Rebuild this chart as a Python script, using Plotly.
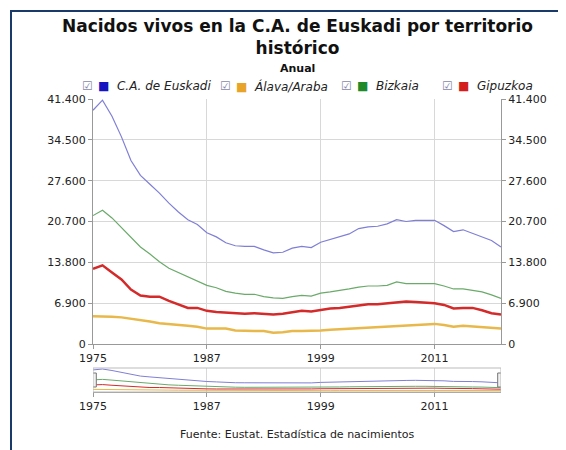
import plotly.graph_objects as go

years = list(range(1975, 2019))
euskadi = [39500, 41200, 38500, 35000, 31000, 28500, 27000, 25500, 23800, 22300, 21000, 20200, 18800, 18100, 17100, 16600, 16500, 16500, 15900, 15400, 15500, 16200, 16500, 16300, 17200, 17700, 18200, 18600, 19500, 19800, 19900, 20300, 21000, 20700, 20900, 20900, 20900, 20000, 19000, 19300, 18700, 18200, 17500, 16400]
alava = [4700, 4700, 4600, 4500, 4300, 4000, 3800, 3500, 3400, 3200, 3100, 2900, 2600, 2600, 2600, 2300, 2200, 2200, 2200, 1900, 2000, 2200, 2200, 2200, 2300, 2400, 2500, 2500, 2700, 2800, 2900, 3000, 3100, 3200, 3300, 3400, 3400, 3200, 2900, 3100, 3000, 2900, 2800, 2600]
bizkaia = [21700, 22600, 21300, 19700, 18000, 16400, 15200, 13900, 12800, 12100, 11300, 10600, 9900, 9500, 8900, 8600, 8400, 8400, 8000, 7800, 7700, 8000, 8200, 8100, 8600, 8800, 9000, 9300, 9600, 9800, 9800, 9900, 10500, 10200, 10200, 10200, 10200, 9800, 9300, 9300, 9000, 8800, 8300, 7700]
gipuzkoa = [12700, 13300, 12100, 10900, 9200, 8200, 8000, 8000, 7300, 6700, 6100, 6100, 5600, 5400, 5300, 5100, 5100, 5200, 5100, 5000, 5100, 5300, 5600, 5500, 5800, 6000, 6100, 6300, 6600, 6700, 6700, 6900, 7100, 7200, 7100, 7000, 6900, 6600, 6000, 6100, 6100, 5700, 5200, 5000]
names = ["C.A. de Euskadi", "Álava/Araba", "Bizkaia", "Gipuzkoa"]
yticks = [0, 6900, 13800, 20700, 27600, 34500, 41400]
xticks = [1975, 1987, 1999, 2011]

series = [euskadi, alava, bizkaia, gipuzkoa]
line_cols = ["#7f7fd6", "#e8b84a", "#6aaa6a", "#d42a2a"]
widths = [1.2, 2.5, 1.2, 2.5]
leg_cols = ["#1414c0", "#e8a428", "#1f8a2a", "#d41e1e"]

L, T, B, W, H = 85, 91, 390, 408, 299
def px(x): return (x - L) / W
def py(y): return (B - y) / H

fig = go.Figure()
for s, c, w in zip(series, line_cols, widths):
    fig.add_trace(go.Scatter(x=years, y=s, mode="lines", line=dict(color=c, width=w), showlegend=False, xaxis="x", yaxis="y"))
for s, c in zip(series, line_cols):
    fig.add_trace(go.Scatter(x=years, y=s, mode="lines", line=dict(color=c, width=1), showlegend=False, xaxis="x2", yaxis="y2", hoverinfo="skip"))
fig.add_trace(go.Scatter(x=years, y=euskadi, mode="lines", line=dict(width=0), showlegend=False, xaxis="x", yaxis="y3", hoverinfo="skip", opacity=0))

axstyle = dict(showline=True, linecolor="#999", ticks="outside", ticklen=4, tickcolor="#999", tickfont=dict(size=11, color="#222"))
fig.update_layout(
    width=566, height=450,
    margin=dict(l=L, r=566 - L - W, t=T, b=450 - B),
    paper_bgcolor="white", plot_bgcolor="white",
    separators=",.",
    font=dict(family="DejaVu Sans", size=11, color="#333"),
    showlegend=False,
    xaxis=dict(domain=[0, 1], anchor="y", range=[1975, 2018], tickvals=xticks, showgrid=True, gridcolor="#d8d8d8", **axstyle),
    yaxis=dict(domain=[py(336), 1], range=[0, 41400], tickvals=yticks, tickformat=",d", showgrid=True, gridcolor="#d8d8d8", zeroline=False, **axstyle),
    yaxis3=dict(overlaying="y", side="right", range=[0, 41400], tickvals=yticks, tickformat=",d", showgrid=False, zeroline=False, **axstyle),
    xaxis2=dict(domain=[0, 1], anchor="y2", range=[1975, 2018], tickvals=xticks, showgrid=True, gridcolor="#d8d8d8", **axstyle),
    yaxis2=dict(domain=[py(384), py(360)], range=[0, 43000], showticklabels=False, showgrid=False, zeroline=False, showline=False),
)

chk_x = [72, 210, 331, 432]
txt_x = [88, 226, 347, 448]
for n, lc, cx, tx in zip(names, leg_cols, chk_x, txt_x):
    fig.add_annotation(xref="paper", yref="paper", x=px(cx), y=py(78), xanchor="left", yanchor="middle", showarrow=False,
                       text="☑", font=dict(size=12, color="#8888aa"))
    fig.add_annotation(xref="paper", yref="paper", x=px(tx), y=py(78), xanchor="left", yanchor="middle", showarrow=False,
                       text=f"<span style='color:{lc}'>■</span>  <i>{n}</i>", font=dict(size=12, color="#222"))

fig.add_annotation(xref="paper", yref="paper", x=0.5, y=py(29), yanchor="middle", showarrow=False,
                   text="<b>Nacidos vivos en la C.A. de Euskadi por territorio<br>histórico</b>", font=dict(size=17, color="#111"))
fig.add_annotation(xref="paper", yref="paper", x=0.5, y=py(60), yanchor="middle", showarrow=False,
                   text="<b>Anual</b>", font=dict(size=11, color="#111"))
fig.add_annotation(xref="paper", yref="paper", x=0.5, y=py(426), yanchor="middle", showarrow=False,
                   text="Fuente: Eustat. Estadística de nacimientos", font=dict(size=11, color="#222"))

for xv in [1975, 2018]:
    fig.add_shape(type="rect", xref="x2", yref="paper", x0=xv - 0.35, x1=xv + 0.35, y0=py(379), y1=py(365), fillcolor="#f0f0f0", line=dict(color="#777", width=1))
fig.add_shape(type="rect", xref="x2", yref="paper", x0=1975, x1=2018, y0=py(384), y1=py(360), line=dict(color="#bbb", width=1))

fig.add_shape(type="rect", xref="paper", yref="paper", x0=px(3), x1=px(562), y0=py(446), y1=py(3), line=dict(color="#1a3a6a", width=2))

fig.write_html("out.html")
